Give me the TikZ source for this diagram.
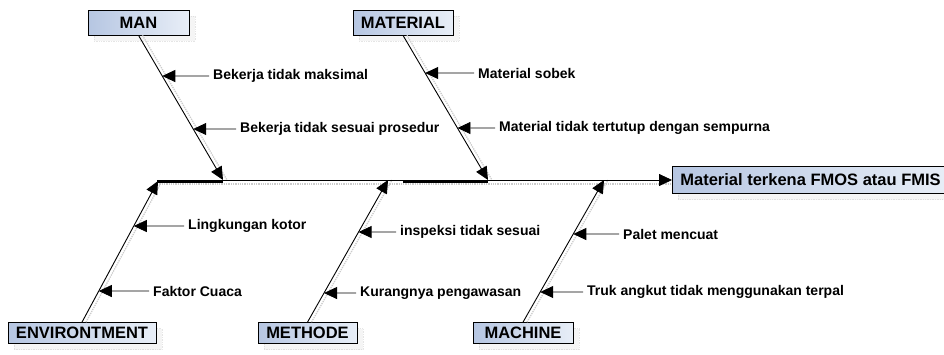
\documentclass[tikz,border=0pt]{standalone}
\usepackage{fontspec}
\setmainfont{Liberation Sans}
\usetikzlibrary{arrows.meta,calc,shadows}
\definecolor{boxleft}{HTML}{B6C6E2}
\definecolor{boxright}{HTML}{E8EEF7}

\begin{document}
\begin{tikzpicture}[
    x=1pt,
    y=-1pt,
    cause/.style={draw, line width=0.7pt, left color=boxleft, right color=boxright, inner sep=0pt,
        font=\fontsize{16.5}{19}\selectfont\bfseries,
        drop shadow={shadow xshift=6pt, shadow yshift=-6pt, fill=gray!15, draw=gray!40, densely dotted}},
    effect/.style={cause, anchor=west, inner xsep=8pt, minimum height=27pt},
    note/.style={anchor=west, inner xsep=4pt, inner ysep=1pt, font=\fontsize{14}{16}\selectfont\bfseries},
    bone/.style={-{Triangle[length=13pt,width=12pt]}, line width=0.9pt},
    bonesh/.style={gray!40, densely dotted, line width=1.3pt},
    line/.style={-{Triangle[length=13pt,width=12pt]}, line width=0.8pt},
    thickseg/.style={line width=3pt}
]
\useasboundingbox (0,0) rectangle (944,354);
\clip (0,0) rectangle (944,354);

\node[cause, minimum width=101pt, minimum height=25pt] (man) at (138.5,22.5) {MAN};
\node[cause, minimum width=100pt, minimum height=25pt] (mat) at (403,22.5) {MATERIAL};
\node[cause, minimum width=148pt, minimum height=21pt] (env) at (82,333) {ENVIRONTMENT};
\node[cause, minimum width=99pt, minimum height=21pt] (met) at (307.5,333) {METHODE};
\node[cause, minimum width=100pt, minimum height=21pt] (mac) at (523,333) {MACHINE};
\node[effect] (eff) at (672,180) {Material terkena FMOS atau FMIS};

\coordinate (tail) at (157,180);
\coordinate (manend) at (223,180);
\coordinate (matend) at (488,180);
\coordinate (envend) at (158,181);
\coordinate (metend) at (388,180);
\coordinate (macend) at (604,180);
\coordinate (mantop) at (man.south);
\coordinate (mattop) at (mat.south);
\coordinate (envbot) at (env.north);
\coordinate (metbot) at (met.north);
\coordinate (macbot) at (mac.north);

\draw[bonesh] ([yshift=-4pt]tail) -- ([yshift=-4pt]eff.west);
\draw[bonesh] ([xshift=4pt]mantop) -- ([xshift=4pt]manend);
\draw[bonesh] ([xshift=4pt]mattop) -- ([xshift=4pt]matend);
\draw[bonesh] ([xshift=4pt]envbot) -- ([xshift=4pt]envend);
\draw[bonesh] ([xshift=4pt]metbot) -- ([xshift=4pt]metend);
\draw[bonesh] ([xshift=4pt]macbot) -- ([xshift=4pt]macend);

\draw[line] (tail) -- (eff.west);
\draw[thickseg] ([yshift=-1pt]tail) -- ([yshift=-1pt]manend);
\draw[thickseg] ([yshift=-1pt]mattop |- matend) -- ([yshift=-1pt]matend);

\draw[bone] (mantop) -- (manend);
\draw[bone] (mattop) -- (matend);
\draw[bone] (envbot) -- (envend);
\draw[bone] (metbot) -- (metend);
\draw[bone] (macbot) -- (macend);

\node[note] (man1) at (209,76) {Bekerja tidak maksimal};
\node[note] (man2) at (236,129) {Bekerja tidak sesuai prosedur};
\node[note] (mat1) at (474,73) {Material sobek};
\node[note] (mat2) at (495,128) {Material tidak tertutup dengan sempurna};
\node[note] (env1) at (184,226) {Lingkungan kotor};
\node[note] (env2) at (149,291) {Faktor Cuaca};
\node[note] (met1) at (396,232) {inspeksi tidak sesuai};
\node[note] (met2) at (356,293) {Kurangnya pengawasan};
\node[note] (mac1) at (619,234) {Palet mencuat};
\node[note] (mac2) at (583,292) {Truk angkut tidak menggunakan terpal};

\draw[line] (man1.west) -- (intersection of mantop--manend and man1.west--man1.east);
\draw[line] (man2.west) -- (intersection of mantop--manend and man2.west--man2.east);
\draw[line] (mat1.west) -- (intersection of mattop--matend and mat1.west--mat1.east);
\draw[line] (mat2.west) -- (intersection of mattop--matend and mat2.west--mat2.east);
\draw[line] (env1.west) -- (intersection of envbot--envend and env1.west--env1.east);
\draw[line] (env2.west) -- (intersection of envbot--envend and env2.west--env2.east);
\draw[line] (met1.west) -- (intersection of metbot--metend and met1.west--met1.east);
\draw[line] (met2.west) -- (intersection of metbot--metend and met2.west--met2.east);
\draw[line] (mac1.west) -- (intersection of macbot--macend and mac1.west--mac1.east);
\draw[line] (mac2.west) -- (intersection of macbot--macend and mac2.west--mac2.east);
\end{tikzpicture}
\end{document}
